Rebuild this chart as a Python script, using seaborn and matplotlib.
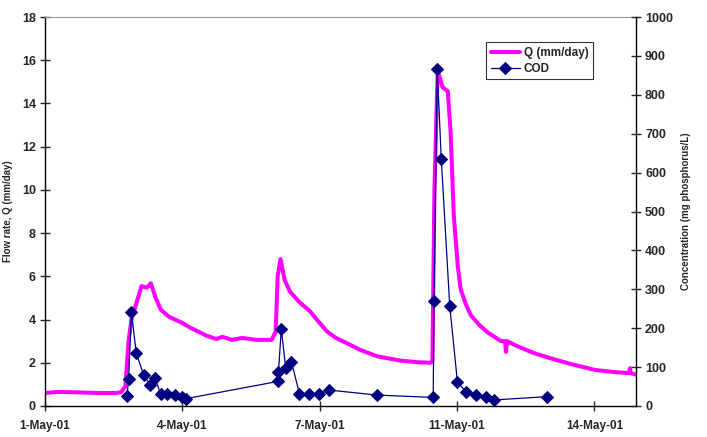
import matplotlib
matplotlib.use("Agg")
import matplotlib.pyplot as plt
import seaborn as sns
import pandas as pd
import numpy as np

# Flow rate Q (mm/day): time in days since 1-May-01
q_days = [0.00, 0.32, 0.82, 1.32, 1.77, 1.89, 1.99, 2.07, 2.14, 2.27, 2.39, 2.52, 2.62,
          2.74, 2.87, 3.07, 3.39, 3.60, 3.81, 4.00, 4.24, 4.39, 4.63, 4.88, 5.23, 5.61,
          5.71, 5.76, 5.83, 5.93, 6.06, 6.30, 6.55, 6.75, 6.98, 7.20, 7.48, 7.80, 8.22,
          8.80, 9.20, 9.54, 9.59, 9.64, 9.72, 9.79, 9.84, 9.97, 10.04, 10.12, 10.22,
          10.29, 10.42, 10.54, 10.75, 10.96, 11.29, 11.39, 11.41, 11.44, 11.71, 12.10,
          12.53, 13.00, 13.61, 14.03, 14.45, 14.48, 14.50, 14.63]
q_vals = [0.60, 0.65, 0.63, 0.60, 0.60, 0.65, 0.90, 3.00, 4.00, 4.80, 5.55, 5.47, 5.68,
          5.00, 4.45, 4.13, 3.85, 3.62, 3.43, 3.25, 3.10, 3.20, 3.06, 3.15, 3.06, 3.06,
          3.43, 6.00, 6.80, 5.85, 5.30, 4.80, 4.40, 3.95, 3.45, 3.15, 2.90, 2.60, 2.30,
          2.10, 2.03, 2.00, 2.05, 10.0, 15.5, 15.1, 14.75, 14.57, 12.7, 8.80, 6.45,
          5.40, 4.70, 4.20, 3.75, 3.40, 3.00, 3.00, 2.50, 3.00, 2.75, 2.45,
          2.20, 1.95, 1.67, 1.58, 1.52, 1.75, 1.52, 1.45]

# COD concentration samples
cod_days = [2.03, 2.07, 2.14, 2.26, 2.44, 2.61, 2.73, 2.86, 3.02, 3.23, 3.38, 3.50,
            5.76, 5.78, 5.85, 5.96, 6.10, 6.30, 6.54, 6.79, 7.03, 8.22,
            9.61, 9.63, 9.71, 9.81, 10.02, 10.21, 10.42, 10.67, 10.91, 11.12, 12.43]
cod_vals = [26, 69, 241, 136, 80, 54, 71, 31, 31, 28, 22, 19,
            63, 88, 198, 97, 114, 31, 30, 31, 41, 28,
            22, 271, 866, 634, 256, 61, 37, 27, 22, 15.5, 24]

tick_pos = [0.0, 3.4, 6.8, 10.2, 13.6]
tick_labels = ["1-May-01", "4-May-01", "7-May-01", "11-May-01", "14-May-01"]

sns.set_style("white")
plt.rcParams["font.family"] = ["Liberation Sans", "DejaVu Sans"]

df_q = pd.DataFrame({"day": q_days, "Q": q_vals})
df_c = pd.DataFrame({"day": cod_days, "COD": cod_vals})

fig = plt.figure(figsize=(7.07, 4.37), dpi=100)
ax = fig.add_axes([0.0636, 0.071, 0.836, 0.890])
ax2 = ax.twinx()

sns.lineplot(data=df_q, x="day", y="Q", ax=ax, color="#FF00FF", linewidth=2.9,
             label="Q (mm/day)", legend=False, sort=False)
sns.lineplot(data=df_c, x="day", y="COD", ax=ax2, color="#000080", linewidth=0.9,
             marker="D", markersize=6, markeredgecolor="#000080", label="COD",
             legend=False, sort=False)

ax.set_xlim(0, 14.63)
ax.set_ylim(0, 18)
ax2.set_ylim(0, 1000)
ax.set_yticks(np.arange(0, 19, 2))
ax2.set_yticks(np.arange(0, 1001, 100))
ax.set_xticks(tick_pos)
ax.set_xticklabels(tick_labels)

for a in (ax, ax2):
    for s in a.spines.values():
        s.set_visible(False)
ax.spines["left"].set_visible(True)
ax.spines["bottom"].set_visible(True)
ax2.spines["right"].set_visible(True)
ax.spines["top"].set_visible(True)
ax.spines["top"].set_color("#999999")
ax.spines["top"].set_linewidth(0.8)
for s in (ax.spines["left"], ax.spines["bottom"], ax2.spines["right"]):
    s.set_color("black")
    s.set_linewidth(1.0)

ax.tick_params(axis="y", direction="inout", length=7, width=1, labelsize=9,
               left=True, pad=3)
ax.tick_params(axis="x", direction="inout", length=7, width=1, labelsize=8.5,
               bottom=True, pad=6.5)
ax2.tick_params(axis="y", direction="inout", length=7, width=1, labelsize=9,
                right=True, pad=3)
for lab in ax.get_xticklabels() + ax.get_yticklabels() + ax2.get_yticklabels():
    lab.set_fontweight("bold")

ax.set_xlabel("")
ax.set_ylabel("Flow rate, Q (mm/day)", fontsize=7, fontweight="bold", labelpad=6)
ax2.set_ylabel("Concentration (mg phosphorus/L)", fontsize=7, fontweight="bold", labelpad=6)
ax.grid(False)
ax2.grid(False)

h1, l1 = ax.get_legend_handles_labels()
h2, l2 = ax2.get_legend_handles_labels()
leg = ax2.legend(h1 + h2, l1 + l2, loc="upper left", bbox_to_anchor=(0.736, 0.95),
                 frameon=True, fancybox=False, edgecolor="black",
                 prop={"weight": "bold", "size": 8.5}, handlelength=2.5,
                 borderpad=0.4, labelspacing=0.3, handletextpad=0.3)
leg.get_frame().set_linewidth(0.8)

fig.savefig("out.png", dpi=100)
